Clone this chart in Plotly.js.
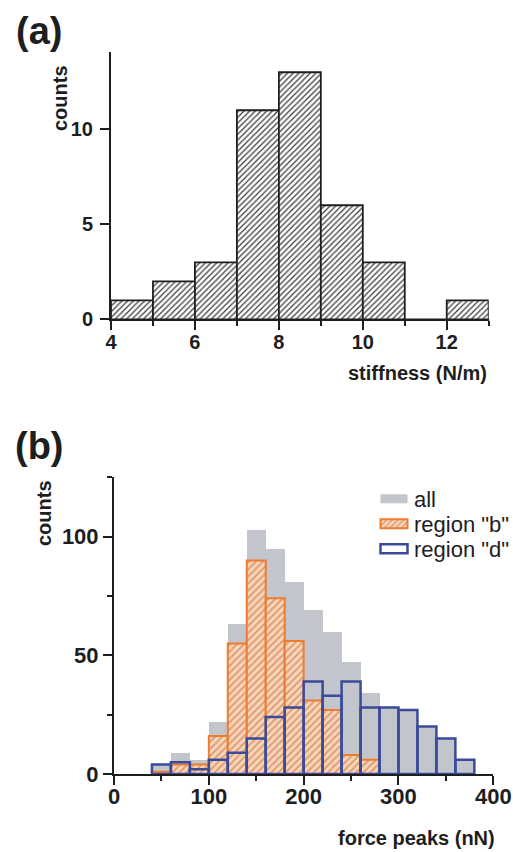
<!DOCTYPE html>
<html>
<head>
<meta charset="utf-8">
<script src="https://cdn.plot.ly/plotly-3.0.1.min.js"></script>
<style>
  html, body { margin: 0; padding: 0; background: #fff; }
  #chart { width: 513px; height: 852px; }
</style>
</head>
<body>
<div id="chart"></div>
<script>
// ---------- Panel (a): stiffness histogram ----------
const stiffBinStart = [4, 5, 6, 7, 8, 9, 10, 11, 12];
const stiffBinWidth = 1;
const stiffCounts   = [1, 2, 3, 11, 13, 6, 3, 0, 1];
const stiffTicks    = [4, 6, 8, 10, 12];
const stiffYTicks   = [0, 5, 10];

// ---------- Panel (b): force peaks histograms ----------
const forceBinStart = [40, 60, 80, 100, 120, 140, 160, 180, 200, 220, 240, 260, 280, 300, 320, 340, 360];
const forceBinWidth = 20;
const countsAll     = [4, 9, 6, 22, 63, 103, 95, 81, 69, 60, 47, 34, 28, 27, 20, 15, 6];
const countsRegionB = [1, 4, 4, 16, 55, 90, 74, 56, 31, 27, 8, 6, 0, 0, 0, 0, 0];
const countsRegionD = [4, 5, 2, 6, 9, 15, 24, 28, 39, 33, 39, 28, 28, 27, 20, 15, 6];
const forceTicks    = [0, 100, 200, 300, 400];
const forceYTicks   = [0, 50, 100];
const legendNames   = ['all', 'region "b"', 'region "d"'];

const centers = (starts, w) => starts.map(s => s + w / 2);

const FONT = 'Liberation Sans, Arial, sans-serif';
const INK = '#1e1e1e';

const traces = [
  {
    type: 'bar', x: centers(stiffBinStart, stiffBinWidth), y: stiffCounts,
    width: stiffBinWidth, xaxis: 'x', yaxis: 'y', showlegend: false,
    marker: {
      color: '#ffffff',
      pattern: { shape: '/', fgcolor: '#3a3a3a', bgcolor: '#ffffff', size: 4, solidity: 0.3 },
      line: { color: '#1e1e1e', width: 1.8 }
    },
    hoverinfo: 'skip'
  },
  {
    type: 'bar', name: legendNames[0], x: centers(forceBinStart, forceBinWidth), y: countsAll,
    width: forceBinWidth, xaxis: 'x2', yaxis: 'y2',
    marker: { color: '#c2c5cb', line: { color: '#c2c5cb', width: 0 } },
    hoverinfo: 'skip'
  },
  {
    type: 'bar', name: legendNames[1], x: centers(forceBinStart, forceBinWidth), y: countsRegionB,
    width: forceBinWidth, xaxis: 'x2', yaxis: 'y2',
    marker: {
      color: '#f5d2b6',
      pattern: { shape: '/', fgcolor: '#e2996a', bgcolor: '#f6d6bd', size: 5, solidity: 0.35 },
      line: { color: '#ee7b2e', width: 2 }
    },
    hoverinfo: 'skip'
  },
  {
    type: 'bar', name: legendNames[2], x: centers(forceBinStart, forceBinWidth), y: countsRegionD,
    width: forceBinWidth, xaxis: 'x2', yaxis: 'y2',
    marker: { color: 'rgba(0,0,0,0)', line: { color: '#3a4b9b', width: 2.5 } },
    hoverinfo: 'skip'
  }
];

const W = 513, H = 852;
const px = v => v / W;
const py = v => 1 - v / H;

const axisCommon = {
  showline: true, linecolor: INK, linewidth: 2, mirror: false,
  showgrid: false, zeroline: false,
  ticks: 'outside', tickcolor: INK, tickwidth: 2, ticklen: 9,
  tickfont: { family: FONT, size: 20, color: INK, weight: 'bold' },
  fixedrange: true
};

const layout = {
  width: W, height: H,
  margin: { l: 0, r: 0, t: 0, b: 0, autoexpand: false },
  paper_bgcolor: '#ffffff', plot_bgcolor: 'rgba(0,0,0,0)',
  barmode: 'overlay', bargap: 0,
  showlegend: true,
  legend: {
    x: px(374), y: py(478), xanchor: 'left', yanchor: 'top',
    bgcolor: 'rgba(0,0,0,0)', borderwidth: 0,
    font: { family: FONT, size: 22, color: INK },
    tracegroupgap: 0, itemclick: false, itemdoubleclick: false
  },
  xaxis: Object.assign({}, axisCommon, {
    domain: [px(111), px(488.7)], anchor: 'y', range: [4, 13],
    tickmode: 'array', tickvals: stiffTicks, ticklabelstandoff: -5,
    minor: { dtick: 1, tick0: 4, ticks: 'outside', ticklen: 5, tickwidth: 2, tickcolor: INK, showgrid: false }
  }),
  yaxis: Object.assign({}, axisCommon, {
    domain: [py(319.3), py(51.7)], anchor: 'x', range: [0, 14.08],
    tickmode: 'array', tickvals: stiffYTicks, ticklabelstandoff: 3
  }),
  xaxis2: Object.assign({}, axisCommon, {
    domain: [px(114), px(493.3)], anchor: 'y2', range: [0, 400],
    tickmode: 'array', tickvals: forceTicks, ticklabelstandoff: -7,
    tickfont: { family: FONT, size: 22, color: INK, weight: 'bold' },
    minor: { dtick: 50, tick0: 0, ticks: 'outside', ticklen: 5, tickwidth: 2, tickcolor: INK, showgrid: false }
  }),
  yaxis2: Object.assign({}, axisCommon, {
    domain: [py(774), py(477.3)], anchor: 'x2', range: [0, 125],
    tickmode: 'array', tickvals: forceYTicks, ticklabelstandoff: 0,
    tickfont: { family: FONT, size: 22, color: INK, weight: 'bold' },
    minor: { dtick: 25, tick0: 0, ticks: 'outside', ticklen: 5, tickwidth: 2, tickcolor: INK, showgrid: false }
  }),
  annotations: [
    { text: '(a)', xref: 'paper', yref: 'paper', x: px(39), y: py(31), xanchor: 'center', yanchor: 'middle',
      showarrow: false, font: { family: FONT, size: 38, color: INK, weight: 'bold' } },
    { text: '(b)', xref: 'paper', yref: 'paper', x: px(39), y: py(446), xanchor: 'center', yanchor: 'middle',
      showarrow: false, font: { family: FONT, size: 38, color: INK, weight: 'bold' } },
    { text: 'counts', xref: 'paper', yref: 'paper', x: px(60), y: py(98), xanchor: 'center', yanchor: 'middle',
      textangle: -90, showarrow: false, font: { family: FONT, size: 20, color: INK, weight: 'bold' } },
    { text: 'stiffness (N/m)', xref: 'paper', yref: 'paper', x: px(489), y: py(373), xanchor: 'right', yanchor: 'middle',
      showarrow: false, font: { family: FONT, size: 20, color: INK, weight: 'bold' } },
    { text: 'counts', xref: 'paper', yref: 'paper', x: px(44), y: py(513), xanchor: 'center', yanchor: 'middle',
      textangle: -90, showarrow: false, font: { family: FONT, size: 20, color: INK, weight: 'bold' } },
    { text: 'force peaks (nN)', xref: 'paper', yref: 'paper', x: px(497), y: py(838), xanchor: 'right', yanchor: 'middle',
      showarrow: false, font: { family: FONT, size: 20, color: INK, weight: 'bold' } }
  ]
};

Plotly.newPlot('chart', traces, layout, { staticPlot: true, displayModeBar: false }).then(gd => {
  // widen the legend swatches to match the reference's rectangular keys
  gd.querySelectorAll('.legend .traces .legendpoints path').forEach(p => {
    p.setAttribute('d', 'M-13.5,4.5H13.5V-4.5H-13.5Z');
  });
  // tighten legend row spacing to the reference's ~25px pitch
  const items = gd.querySelectorAll('.legend .traces');
  let y0 = null;
  items.forEach((g, i) => {
    const t = g.getAttribute('transform') || '';
    const m = t.match(/translate\(\s*([-\d.]+)[ ,]+([-\d.]+)\s*\)/);
    if (!m) return;
    const x = parseFloat(m[1]);
    const y = parseFloat(m[2]);
    if (y0 === null) y0 = y;
    g.setAttribute('transform', 'translate(' + x + ',' + (y0 + i * 25) + ')');
  });
});
</script>
</body>
</html>
